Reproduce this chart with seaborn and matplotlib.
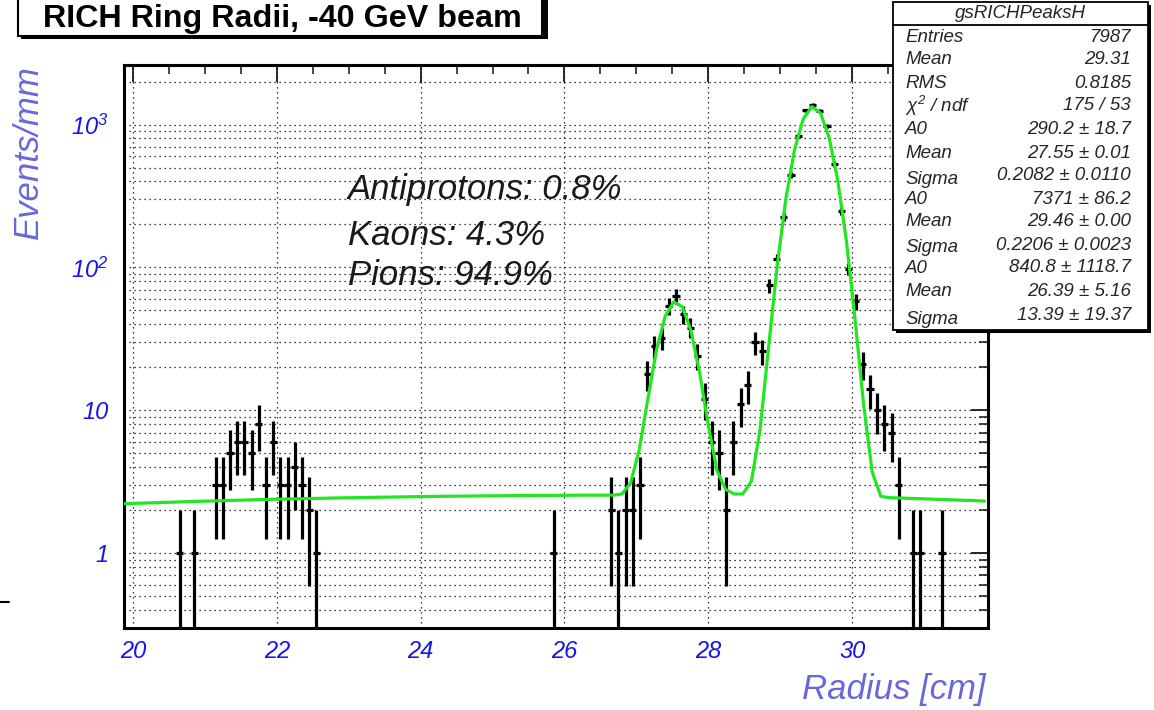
import numpy as np
import matplotlib
matplotlib.use("Agg")
import matplotlib.pyplot as plt
import matplotlib.ticker as mticker
from matplotlib.patches import Rectangle
from matplotlib.lines import Line2D
import seaborn as sns

# --- histogram (bin centres in cm, counts per 1 mm bin) ---
radius = [20.65, 20.85, 21.15, 21.25, 21.35, 21.45, 21.55, 21.65, 21.75, 21.85,
          21.95, 22.05, 22.15, 22.25, 22.35, 22.45, 22.55, 25.85,
          26.65, 26.75, 26.85, 26.95, 27.05, 27.15, 27.25, 27.35, 27.45, 27.55,
          27.65, 27.75, 27.85, 27.95, 28.05, 28.15, 28.25, 28.35, 28.45, 28.55,
          28.65, 28.75, 28.85, 28.95, 29.05, 29.15, 29.25, 29.35, 29.45, 29.55,
          29.65, 29.75, 29.85, 29.95, 30.05, 30.15, 30.25, 30.35, 30.45, 30.55,
          30.65, 30.85, 30.95, 31.25]
counts = [1, 1, 3, 3, 5, 6, 6, 5, 8, 3,
          6, 3, 3, 4, 3, 2, 1, 1,
          2, 1, 2, 2, 3, 18, 28, 32, 54, 63,
          47, 38, 24, 12, 6, 5, 2, 6, 11, 15,
          30, 26, 75, 114, 227, 442, 830, 1259, 1368, 1245,
          979, 531, 248, 98, 58, 21, 14, 10, 8, 7,
          3, 1, 1, 1]

# --- fit curve vertices ---
fit_x = [19.84, 20.92, 22.00, 23.08, 24.16, 25.24, 26.32, 26.68,
         26.80, 26.92, 27.04, 27.16, 27.28, 27.40, 27.52, 27.64, 27.76, 27.88,
         28.00, 28.12, 28.24, 28.36, 28.48, 28.60, 28.72, 28.84, 28.96, 29.08,
         29.20, 29.32, 29.44, 29.56, 29.68, 29.80, 29.92, 30.04, 30.16, 30.28,
         30.40, 30.52, 31.24, 31.84]
fit_y = [2.22, 2.31, 2.39, 2.45, 2.50, 2.53, 2.55, 2.55,
         2.6, 3.1, 5.3, 12, 26.5, 45.5, 57.5, 53, 36, 18.3,
         7.9, 3.8, 2.8, 2.6, 2.6, 3.2, 7.3, 28, 104, 305,
         668, 1092, 1335, 1205, 813, 408, 155, 44, 11, 3.7,
         2.5, 2.45, 2.38, 2.32]

stat_names = ["Entries", "Mean", "RMS", r"$\chi^{2}$ / ndf", "A0", "Mean", "Sigma",
              "A0", "Mean", "Sigma", "A0", "Mean", "Sigma"]
stat_values = ["7987", "29.31", "0.8185", "175 / 53", "290.2 \u00b1 18.7",
               "27.55 \u00b1 0.01", "0.2082 \u00b1 0.0110", "7371 \u00b1 86.2",
               "29.46 \u00b1 0.00", "0.2206 \u00b1 0.0023", "840.8 \u00b1 1118.7",
               "26.39 \u00b1 5.16", "13.39 \u00b1 19.37"]
fractions = ["Antiprotons: 0.8%", "Kaons: 4.3%", "Pions: 94.9%"]
ytick_vals = [1, 10, 100, 1000]
ytick_labels = ["1", "10", r"$10^{2}$", r"$10^{3}$"]

sns.set_style("white")
plt.rcParams["font.family"] = ["Liberation Sans", "DejaVu Sans"]
plt.rcParams["mathtext.fontset"] = "custom"
plt.rcParams["mathtext.rm"] = "Liberation Sans:italic"
plt.rcParams["mathtext.it"] = "Liberation Sans:italic"

W, H = 1154, 710
fig = plt.figure(figsize=(W / 100, H / 100), dpi=100)


def fx(px):
    return px / W


def fy(py):
    return 1 - py / H


ax = fig.add_axes([fx(124), fy(628), fx(988 - 124), (628 - 65) / H])

df_counts = np.array(counts, dtype=float)
err = np.sqrt(df_counts)
ax.errorbar(radius, df_counts, yerr=err, xerr=0.05, fmt="none",
            ecolor="black", elinewidth=2.3, capsize=0, zorder=3)
sns.lineplot(x=fit_x, y=fit_y, ax=ax, color="#22e622", linewidth=2.3,
             sort=False, estimator=None, legend=False, zorder=4)

ax.set_yscale("log")
ax.set_xlim(19.875, 31.89)
ax.set_ylim(0.30, 2610)

ax.xaxis.set_major_locator(mticker.MultipleLocator(2))
ax.xaxis.set_minor_locator(mticker.MultipleLocator(0.5))
ax.yaxis.set_major_locator(mticker.FixedLocator(ytick_vals))
ax.yaxis.set_major_formatter(mticker.FixedFormatter(ytick_labels))
ax.yaxis.set_minor_locator(mticker.LogLocator(base=10, subs=np.arange(2, 10)))
ax.yaxis.set_minor_formatter(mticker.NullFormatter())

dots = (0, (1, 3))
ax.grid(which="major", axis="x", linestyle=dots, color="black", linewidth=0.9)
ax.grid(which="both", axis="y", linestyle=dots, color="black", linewidth=0.9)

ax.tick_params(which="major", direction="in", length=12, width=1.4,
               top=True, right=True, labelcolor="#1414f0", labelsize=17)
ax.tick_params(which="minor", direction="in", length=6.5, width=1.2,
               top=True, right=True)
ax.tick_params(axis="x", which="major", pad=9)
ax.tick_params(axis="y", which="major", pad=11)
for lab in ax.get_xticklabels() + ax.get_yticklabels():
    lab.set_fontstyle("italic")
for sp in ax.spines.values():
    sp.set_linewidth(2.2)
    sp.set_color("black")
ax.set_xlabel("")
ax.set_ylabel("")

axis_col = "#6868dc"
fig.text(fx(28), fy(65), "Events/mm", rotation=90, ha="center", va="top",
         fontsize=25, style="italic", color=axis_col)
fig.text(fx(986), fy(690), "Radius [cm]", ha="right", va="center",
         fontsize=25, style="italic", color=axis_col)

for txt, base in zip(fractions, [199, 245, 285]):
    fig.text(fx(348), fy(base), txt, ha="left", va="baseline",
             fontsize=25, style="italic", color="#1a1a1a")

# title pave with shadow
fig.patches.append(Rectangle((fx(21), fy(39)), fx(545 - 18), 39 / H,
                             transform=fig.transFigure, facecolor="black",
                             edgecolor="none", zorder=5))
fig.patches.append(Rectangle((fx(18), fy(36)), fx(545 - 21), 40 / H,
                             transform=fig.transFigure, facecolor="white",
                             edgecolor="black", linewidth=1.5, zorder=6))
fig.text(fx(282), fy(19), "RICH Ring Radii, -40 GeV beam", ha="center",
         va="center", fontsize=23.2, fontweight="bold", color="black", zorder=7)

# stats box with shadow
fig.patches.append(Rectangle((fx(896), fy(333)), fx(1148 - 893), (330 - 2) / H,
                             transform=fig.transFigure, facecolor="black",
                             edgecolor="none", zorder=5))
fig.patches.append(Rectangle((fx(893), fy(330)), fx(1148 - 893), (330 - 2) / H,
                             transform=fig.transFigure, facecolor="white",
                             edgecolor="black", linewidth=1.3, zorder=6))
fig.lines.append(Line2D([fx(893), fx(1148)], [fy(25), fy(25)],
                        transform=fig.transFigure, color="black",
                        linewidth=1.3, zorder=7))
fig.text(fx(1020), fy(13), "gsRICHPeaksH", ha="center", va="center",
         fontsize=13.5, style="italic", zorder=7)
label_y = [37, 60, 83, 106, 129, 153, 179, 199, 222, 248, 269, 292, 319]
value_y = [37, 60, 83, 106, 129, 153, 176, 199, 222, 245, 268, 292, 315]
for name, val, ly, vy in zip(stat_names, stat_values, label_y, value_y):
    fig.text(fx(905), fy(ly), name, ha="left", va="center",
             fontsize=13.5, style="italic", zorder=7)
    fig.text(fx(1131), fy(vy), val, ha="right", va="center",
             fontsize=13.5, style="italic", zorder=7)

# stray mark at left margin
fig.lines.append(Line2D([0, fx(9)], [fy(602), fy(602)], transform=fig.transFigure,
                        color="black", linewidth=1.5))

fig.savefig("out.png", dpi=100)
